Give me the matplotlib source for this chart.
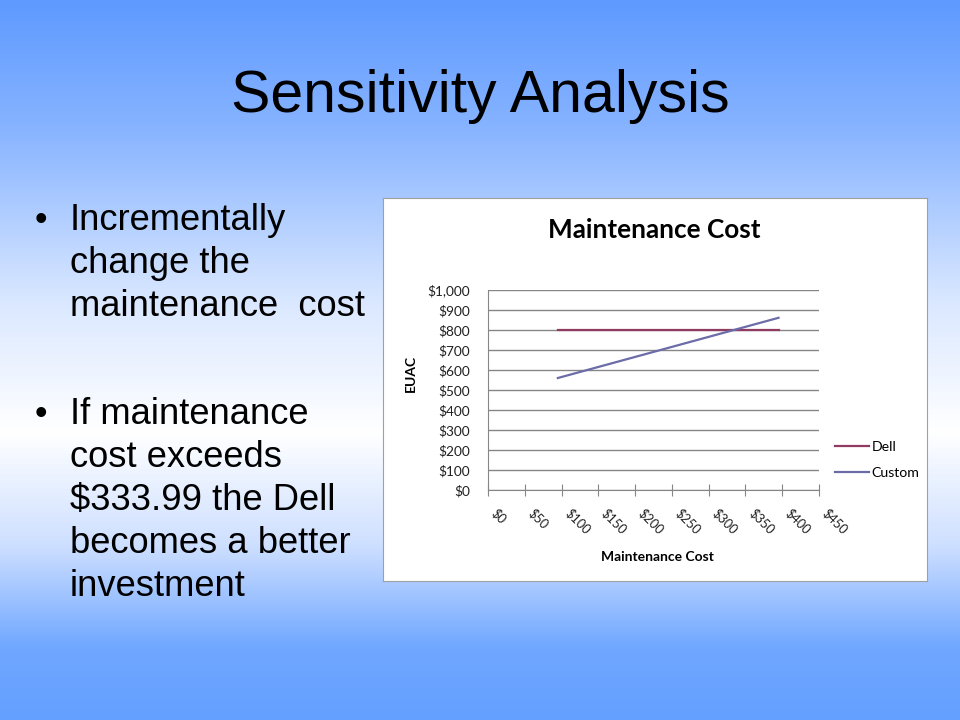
import numpy as np
import matplotlib.pyplot as plt
import matplotlib.transforms as mtransforms
from matplotlib.colors import LinearSegmentedColormap
from matplotlib.ticker import FuncFormatter

# data
maintenance = [95, 395]
dell_euac = [800, 800]
custom_euac = [560, 861]
x_ticks = [0, 50, 100, 150, 200, 250, 300, 350, 400, 450]
y_ticks = [0, 100, 200, 300, 400, 500, 600, 700, 800, 900, 1000]

slide_title = 'Sensitivity Analysis'
bullets = [
    ['Incrementally', 'change the', 'maintenance  cost'],
    ['If maintenance', 'cost exceeds', '$333.99 the Dell', 'becomes a better', 'investment'],
]

W, H = 960, 720
fig = plt.figure(figsize=(9.6, 7.2), dpi=100)

# slide background gradient
bg = fig.add_axes([0, 0, 1, 1])
stops = [(0.0, '#5e9aff'), (0.18, '#88b4ff'), (0.42, '#dae8ff'), (0.6, '#ffffff'),
         (0.76, '#cddfff'), (0.9, '#70a7ff'), (1.0, '#64a0ff')]
cmap = LinearSegmentedColormap.from_list('slide', stops)
bg.imshow(np.linspace(0, 1, 256).reshape(-1, 1), aspect='auto', cmap=cmap,
          extent=[0, 1, 0, 1], origin='upper')
bg.set_axis_off()

# title and bullets
fig.text(480 / W, 1 - 112 / H, slide_title, ha='center', va='baseline',
         fontsize=42.5, family='Liberation Sans')
first_baselines = [230, 424]
for lines, y0 in zip(bullets, first_baselines):
    fig.text(35 / W, 1 - y0 / H, '\u2022', ha='left', va='baseline',
             fontsize=26, family='Liberation Sans')
    for i, line in enumerate(lines):
        fig.text(70 / W, 1 - (y0 + 43 * i) / H, line, ha='left', va='baseline',
                 fontsize=26.2, family='Liberation Sans')

# white chart panel
panel = fig.add_axes([383 / W, 1 - 581 / H, 544 / W, 383 / H])
panel.set_facecolor('white')
panel.set_xticks([])
panel.set_yticks([])
for s in panel.spines.values():
    s.set_color('#a0a0a0')
    s.set_linewidth(0.8)

ax = fig.add_axes([488 / W, 1 - 490 / H, 331 / W, 200 / H])
ax.set_facecolor('none')
ax.plot(maintenance, dell_euac, color='#913a62', lw=1.6, label='Dell')
ax.plot(maintenance, custom_euac, color='#6c6ca8', lw=1.6, label='Custom')

ax.set_xlim(0, 450)
ax.set_ylim(0, 1000)
ax.set_xticks(x_ticks)
ax.set_yticks(y_ticks)
ax.xaxis.set_major_formatter(FuncFormatter(lambda v, p: f'${v:,.0f}'))
ax.yaxis.set_major_formatter(FuncFormatter(lambda v, p: f'${v:,.0f}'))
ax.grid(axis='y', color='#868686', lw=1)
ax.set_axisbelow(True)
for side in ['top', 'right']:
    ax.spines[side].set_visible(False)
for side in ['left', 'bottom']:
    ax.spines[side].set_color('#868686')
ax.tick_params(axis='x', direction='inout', length=8, color='#868686', pad=8,
               labelsize=9.2)
ax.tick_params(axis='y', length=0, pad=12.7, labelsize=9.8)
shift = mtransforms.ScaledTranslation(10 / 100, 0, fig.dpi_scale_trans)
for lab in ax.get_xticklabels():
    lab.set_rotation(-45)
    lab.set_rotation_mode('anchor')
    lab.set_ha('left')
    lab.set_va('top')
    lab.set_transform(lab.get_transform() + shift)
for lab in ax.get_xticklabels() + ax.get_yticklabels():
    lab.set_family('Lato')
    lab.set_color('#202020')

fig.text(657 / W, 1 - 557 / H, 'Maintenance Cost', ha='center', va='center',
         fontsize=10, fontweight='bold', family='Lato')
fig.text(411 / W, 1 - 373 / H, 'EUAC', ha='center', va='center', rotation=90,
         fontsize=10, fontweight='bold', family='Lato')
fig.text(654 / W, 1 - 230 / H, 'Maintenance Cost', ha='center', va='center',
         fontsize=18.8, fontweight='bold', family='Lato')

ax.legend(loc='center left', bbox_to_anchor=(822 / W, 1 - 460 / H),
          bbox_transform=fig.transFigure, frameon=False,
          handlelength=2.4, handletextpad=0.2, labelspacing=1.05,
          prop={'family': 'Lato', 'size': 10.2})

fig.savefig('out.png', dpi=100)
